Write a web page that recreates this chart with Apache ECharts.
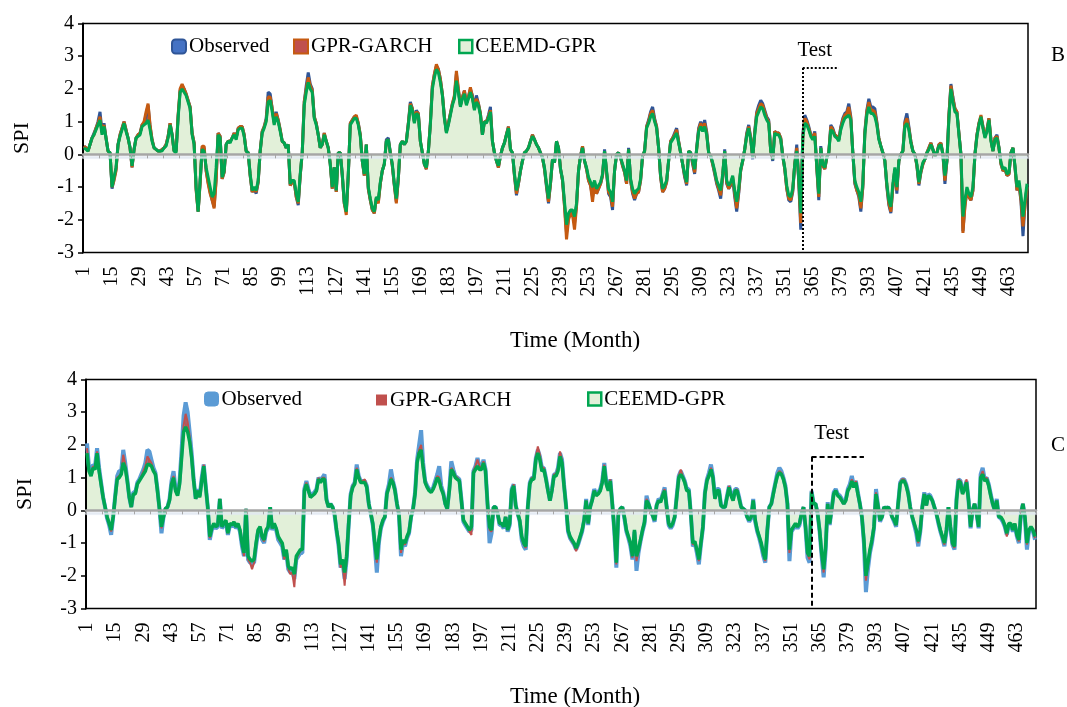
<!DOCTYPE html>
<html><head><meta charset="utf-8">
<script src="https://cdn.jsdelivr.net/npm/echarts@6/dist/echarts.min.js"></script>
<style>html,body{margin:0;padding:0;background:#fff}#c{width:1067px;height:707px}</style>
</head><body><div id="c"></div>
<script>
// ---------- Panel B ----------
const obsB = [
0.25,0.2,0.1,0.3,0.5,0.65,0.8,1.0,1.3,0.7,
0.95,0.5,0.1,0.05,-1.05,-0.75,-0.45,0.3,0.6,0.8,
1.0,0.75,0.5,0.2,-0.4,0.15,0.5,0.6,0.65,0.9,
0.95,1.2,1.5,0.85,0.45,0.2,0.15,0.1,0.1,0.15,
0.2,0.3,0.55,0.95,0.6,0.1,0.1,1.15,1.95,2.1,
2.0,1.85,1.65,1.45,0.65,0.35,-1.05,-1.75,-0.85,0.2,
0.2,-0.5,-0.85,-1.15,-1.4,-1.6,-0.75,0.65,0.55,-0.75,
-0.55,0.3,0.4,0.4,0.5,0.65,0.5,0.8,0.85,0.85,
0.6,0.1,0.05,-0.65,-1.15,-1.05,-1.2,-0.85,0.1,0.7,
0.85,1.1,1.9,1.85,1.4,1.0,1.3,1.05,0.75,0.4,
0.35,0.2,0.3,-0.95,-0.85,-0.85,-1.3,-1.55,-0.65,0.05,
1.6,2.1,2.5,2.15,2.0,1.15,0.95,0.6,0.2,0.3,
0.65,0.4,0.2,-0.3,-1.05,-0.4,-1.15,0.05,0.05,-0.65,
-1.5,-1.75,-0.65,0.95,1.05,1.15,1.15,0.95,0.6,-0.2,
-0.65,0.3,-1.05,-1.4,-1.7,-1.8,-1.35,-1.45,-0.9,-0.5,
-0.3,0.45,0.5,0.05,-0.35,-0.95,-1.45,-0.75,0.3,0.4,
0.3,0.4,0.95,1.6,1.4,1.0,1.35,1.25,0.4,0.05,
-0.3,-0.45,0.1,0.95,2.1,2.45,2.7,2.6,2.3,1.85,
1.15,0.7,0.95,1.25,1.55,1.75,2.45,1.95,1.5,1.75,
1.95,1.55,1.75,2.0,1.8,1.4,1.8,1.55,1.25,0.6,
1.0,1.0,1.2,1.45,0.4,0.05,-0.2,-0.4,-0.05,0.2,
0.35,0.6,0.85,0.15,0.05,-0.65,-1.25,-0.9,-0.5,-0.2,
0.05,0.1,0.2,0.4,0.6,0.45,0.3,0.2,0.05,-0.1,
-0.45,-1.0,-1.5,-0.9,-0.15,-0.25,0.4,0.2,-0.45,-0.8,
-1.55,-2.4,-1.95,-1.75,-1.8,-2.1,-1.55,-0.5,-0.05,0.25,
-0.2,-0.45,-0.8,-0.95,-1.3,-0.9,-1.2,-1.05,-0.9,-0.65,
0.15,-0.55,-1.2,-1.3,-1.7,-0.5,0.0,0.05,-0.1,-0.35,
-0.55,-0.9,0.2,-0.8,-1.2,-1.4,-1.2,-1.15,-0.8,-0.05,
0.1,0.85,1.05,1.3,1.45,1.1,0.85,0.2,-0.7,-1.15,
-1.05,-0.85,-0.2,0.4,0.5,0.65,0.8,0.4,0.05,-0.3,
-0.7,-0.95,0.1,0.05,-0.3,-0.6,0.2,0.8,1.0,0.8,
1.05,0.7,0.05,-0.05,-0.3,-0.6,-0.9,-1.1,-1.35,-0.7,
0.15,-0.9,-1.05,-0.95,-0.75,-1.3,-1.75,-1.2,-0.5,-0.2,
0.15,0.65,0.9,0.5,-0.15,0.7,1.3,1.5,1.65,1.55,
1.35,1.15,1.05,0.1,-0.2,0.7,0.65,0.65,0.5,-0.05,
-0.45,-1.05,-1.4,-1.45,-1.15,-0.3,0.3,-0.85,-2.3,0.6,
1.2,1.05,0.85,0.6,0.5,0.7,-0.4,-1.4,0.25,-0.35,
-0.45,-0.1,0.05,0.9,0.8,0.6,0.55,0.45,0.85,1.1,
1.25,1.3,1.55,1.15,0.05,-0.9,-1.1,-1.3,-1.75,-1.0,
0.7,1.35,1.7,1.45,1.45,1.4,1.0,0.5,0.25,0.05,
-0.2,-1.0,-1.55,-1.8,-1.0,-0.45,-1.2,-0.2,0.0,0.1,
1.0,1.25,0.85,0.4,0.1,0.0,-0.35,-0.95,-0.55,-0.3,
-0.15,0.05,0.2,0.35,0.15,-0.05,0.05,0.3,0.35,0.0,
-0.9,-0.2,1.2,2.15,1.75,1.4,1.3,0.65,0.0,-2.35,
-1.55,-1.1,-1.3,-1.4,-1.1,0.0,0.6,0.95,1.15,0.85,
0.55,0.75,1.1,0.45,0.1,0.5,0.6,0.2,-0.3,-0.5,
-0.45,-0.65,-0.6,0.05,0.2,-0.4,-1.1,-0.9,-1.45,-2.5,
-1.5,-1.0];
const garchB = [
0.25,0.2,0.1,0.3,0.5,0.6,0.8,0.95,1.15,0.65,
0.9,0.5,0.1,0.05,-1.0,-0.8,-0.5,0.3,0.6,0.8,
1.0,0.75,0.5,0.2,-0.4,0.15,0.5,0.6,0.65,0.9,
1.0,1.3,1.55,0.9,0.45,0.2,0.15,0.1,0.1,0.15,
0.2,0.3,0.55,0.95,0.6,0.1,0.1,1.2,2.0,2.15,
2.0,1.85,1.65,1.45,0.65,0.35,-1.1,-1.75,-0.9,0.25,
0.25,-0.5,-0.9,-1.2,-1.4,-1.65,-0.8,0.65,0.55,-0.75,
-0.55,0.3,0.4,0.4,0.5,0.65,0.5,0.8,0.85,0.85,
0.6,0.1,0.05,-0.65,-1.15,-1.05,-1.15,-0.85,0.1,0.7,
0.85,1.05,1.75,1.75,1.4,0.95,1.25,1.05,0.75,0.4,
0.35,0.2,0.3,-0.95,-0.85,-0.85,-1.3,-1.5,-0.65,0.05,
1.6,2.0,2.35,2.1,1.95,1.15,0.95,0.6,0.2,0.3,
0.65,0.4,0.2,-0.3,-1.05,-0.4,-1.15,0.05,0.05,-0.65,
-1.5,-1.85,-0.65,0.95,1.05,1.15,1.2,0.95,0.6,-0.2,
-0.65,0.3,-1.05,-1.4,-1.7,-1.8,-1.35,-1.5,-0.9,-0.5,
-0.3,0.4,0.45,0.05,-0.35,-0.95,-1.5,-0.75,0.3,0.4,
0.3,0.4,0.95,1.55,1.4,1.0,1.3,1.25,0.4,0.05,
-0.3,-0.45,0.1,0.95,2.1,2.45,2.75,2.6,2.3,1.85,
1.15,0.7,0.95,1.25,1.55,1.8,2.55,2.0,1.5,1.75,
1.95,1.55,1.75,2.05,1.75,1.4,1.7,1.55,1.25,0.6,
1.0,1.0,1.15,1.35,0.4,0.05,-0.2,-0.4,-0.05,0.2,
0.35,0.6,0.85,0.15,0.05,-0.65,-1.2,-0.9,-0.5,-0.2,
0.05,0.1,0.2,0.4,0.6,0.45,0.3,0.2,0.05,-0.1,
-0.45,-0.95,-1.45,-0.9,-0.15,-0.25,0.4,0.2,-0.45,-0.8,
-1.6,-2.6,-2.0,-1.8,-1.85,-2.3,-1.6,-0.5,-0.05,0.25,
-0.2,-0.45,-0.8,-0.95,-1.45,-0.9,-1.2,-1.05,-0.9,-0.65,
0.1,-0.55,-1.15,-1.25,-1.6,-0.5,0.0,0.05,-0.1,-0.35,
-0.55,-0.9,0.15,-0.8,-1.15,-1.35,-1.2,-1.15,-0.8,-0.05,
0.1,0.85,1.0,1.25,1.35,1.05,0.85,0.2,-0.7,-1.15,
-1.05,-0.85,-0.2,0.4,0.5,0.6,0.75,0.4,0.05,-0.3,
-0.65,-0.9,0.1,0.05,-0.25,-0.55,0.15,0.75,0.95,0.75,
0.95,0.65,0.05,-0.05,-0.3,-0.55,-0.85,-1.05,-1.25,-0.65,
0.1,-0.85,-1.05,-0.9,-0.7,-1.2,-1.65,-1.15,-0.5,-0.2,
0.15,0.6,0.85,0.5,-0.1,0.65,1.25,1.4,1.55,1.5,
1.3,1.1,1.0,0.1,-0.15,0.7,0.65,0.65,0.5,-0.05,
-0.45,-1.05,-1.35,-1.4,-1.1,-0.3,0.2,-0.8,-2.1,0.5,
1.1,1.0,0.8,0.6,0.5,0.65,-0.4,-1.3,0.2,-0.35,
-0.45,-0.1,0.05,0.85,0.75,0.6,0.55,0.45,0.8,1.05,
1.2,1.25,1.45,1.1,0.05,-0.85,-1.1,-1.25,-1.65,-1.0,
0.65,1.3,1.6,1.35,1.35,1.3,0.95,0.5,0.25,0.05,
-0.2,-0.95,-1.5,-1.75,-1.0,-0.45,-1.1,-0.2,0.0,0.1,
0.95,1.1,0.8,0.4,0.1,0.0,-0.35,-0.9,-0.55,-0.3,
-0.15,0.05,0.2,0.35,0.15,-0.05,0.05,0.3,0.35,0.0,
-0.8,-0.2,1.2,2.1,1.7,1.4,1.3,0.65,0.0,-2.4,
-1.6,-1.1,-1.3,-1.4,-1.1,0.0,0.6,0.95,1.2,0.85,
0.55,0.75,1.1,0.45,0.1,0.5,0.55,0.2,-0.3,-0.5,
-0.45,-0.65,-0.6,0.05,0.2,-0.4,-1.1,-0.9,-1.4,-2.2,
-1.6,-1.0];
const ceemdB = [
0.2,0.15,0.1,0.3,0.5,0.6,0.75,0.9,1.05,0.6,
0.85,0.5,0.1,0.05,-1.0,-0.7,-0.4,0.3,0.55,0.75,
0.95,0.7,0.5,0.2,-0.35,0.15,0.5,0.55,0.6,0.85,
0.9,0.95,1.05,0.75,0.4,0.2,0.15,0.1,0.1,0.1,
0.2,0.25,0.5,0.9,0.6,0.1,0.05,1.1,1.9,2.0,
1.9,1.8,1.6,1.4,0.6,0.3,-1.0,-1.75,-0.8,0.15,
0.1,-0.4,-0.7,-1.0,-1.3,-1.2,-0.4,0.6,0.5,-0.7,
-0.5,0.3,0.4,0.35,0.5,0.6,0.45,0.75,0.8,0.8,
0.55,0.1,0.05,-0.6,-1.1,-1.0,-1.1,-0.8,0.1,0.65,
0.8,1.0,1.6,1.65,1.3,0.9,1.15,1.0,0.7,0.4,
0.35,0.2,0.3,-0.9,-0.8,-0.8,-1.2,-1.45,-0.6,0.05,
1.5,1.9,2.2,2.0,1.9,1.1,0.9,0.6,0.2,0.3,
0.6,0.4,0.2,-0.3,-1.0,-0.4,-1.1,0.05,0.05,-0.6,
-1.45,-1.75,-0.6,0.9,1.0,1.1,1.1,0.9,0.55,-0.2,
-0.6,0.3,-1.0,-1.35,-1.65,-1.75,-1.3,-1.4,-0.85,-0.5,
-0.3,0.4,0.45,0.05,-0.3,-0.9,-1.35,-0.7,0.3,0.4,
0.3,0.4,0.9,1.5,1.35,0.95,1.25,1.2,0.4,0.05,
-0.3,-0.4,0.1,0.9,2.0,2.35,2.6,2.5,2.2,1.8,
1.1,0.65,0.9,1.2,1.5,1.7,2.25,1.9,1.45,1.7,
1.85,1.5,1.7,1.9,1.7,1.35,1.6,1.5,1.2,0.6,
1.0,0.95,1.1,1.3,0.4,0.05,-0.2,-0.35,-0.05,0.2,
0.35,0.6,0.8,0.15,0.05,-0.6,-1.1,-0.85,-0.5,-0.2,
0.05,0.1,0.2,0.4,0.55,0.45,0.3,0.2,0.05,-0.1,
-0.4,-0.9,-1.35,-0.85,-0.15,-0.25,0.4,0.2,-0.45,-0.75,
-1.45,-2.15,-1.8,-1.7,-1.7,-1.9,-1.5,-0.5,-0.05,0.2,
-0.2,-0.4,-0.7,-0.85,-1.0,-0.8,-1.05,-0.95,-0.85,-0.6,
0.1,-0.5,-1.05,-1.15,-1.45,-0.5,0.0,0.05,-0.1,-0.3,
-0.5,-0.8,0.15,-0.75,-1.05,-1.2,-1.1,-1.05,-0.75,-0.05,
0.1,0.8,0.95,1.15,1.25,1.0,0.8,0.2,-0.65,-1.05,
-0.95,-0.8,-0.2,0.35,0.45,0.55,0.65,0.35,0.05,-0.3,
-0.6,-0.85,0.1,0.05,-0.2,-0.45,0.15,0.7,0.85,0.7,
0.85,0.6,0.05,-0.05,-0.25,-0.5,-0.8,-0.95,-1.1,-0.6,
0.1,-0.8,-0.95,-0.85,-0.65,-1.1,-1.45,-1.05,-0.45,-0.2,
0.15,0.55,0.8,0.45,-0.1,0.6,1.15,1.3,1.45,1.4,
1.2,1.05,0.95,0.1,-0.15,0.65,0.6,0.6,0.45,-0.05,
-0.4,-0.95,-1.25,-1.3,-1.05,-0.3,0.1,-0.75,-1.8,0.5,
0.95,0.9,0.75,0.55,0.45,0.55,-0.35,-1.2,0.2,-0.3,
-0.4,-0.1,0.05,0.75,0.7,0.55,0.5,0.4,0.75,0.95,
1.1,1.15,1.2,1.05,0.05,-0.8,-1.0,-1.15,-1.45,-0.9,
0.6,1.2,1.45,1.25,1.25,1.15,0.9,0.45,0.25,0.05,
-0.2,-0.9,-1.4,-1.6,-0.9,-0.4,-1.0,-0.2,0.0,0.1,
0.85,0.95,0.75,0.35,0.1,0.0,-0.3,-0.85,-0.5,-0.25,
-0.15,0.05,0.15,0.3,0.15,-0.05,0.05,0.25,0.3,0.0,
-0.65,-0.2,1.1,2.0,1.6,1.3,1.25,0.6,0.0,-1.9,
-1.4,-1.0,-1.2,-1.3,-1.0,0.0,0.55,0.9,1.15,0.8,
0.5,0.7,1.05,0.4,0.1,0.45,0.5,0.2,-0.25,-0.45,
-0.4,-0.6,-0.55,0.05,0.2,-0.35,-1.0,-0.8,-1.25,-1.9,
-1.4,-0.9];
// ---------- Panel C ----------
const obsC = [
2.05,1.3,1.1,1.4,1.35,1.9,1.3,0.85,0.4,0.1,
-0.25,-0.45,-0.75,-0.2,0.45,1.05,1.2,1.2,1.85,1.45,
0.95,0.4,0.1,0.55,0.55,0.85,0.95,1.1,1.25,1.45,
1.85,1.8,1.55,1.3,1.15,0.65,0.05,-0.7,-0.2,0.05,
0.1,0.35,0.9,1.2,0.65,0.5,0.9,1.85,2.9,3.3,
3.0,2.4,1.75,0.95,0.35,0.65,0.45,1.0,1.4,0.75,
0.1,-0.9,-0.6,-0.45,-0.55,-0.5,0.35,-0.55,-0.45,-0.35,
-0.75,-0.45,-0.5,-0.4,-0.55,-0.45,-0.65,-1.1,-1.4,0.05,
-1.5,-1.6,-1.6,-1.6,-1.1,-0.65,-0.55,-0.9,-1.0,-0.65,
-0.55,0.1,-0.6,-0.45,-0.6,-0.9,-1.0,-1.1,-1.5,-1.3,
-1.8,-1.9,-1.85,-2.1,-1.5,-1.4,-1.3,-1.3,0.65,0.9,
0.65,0.45,0.5,0.55,0.65,1.0,0.9,1.0,1.1,0.35,
0.1,0.2,0.1,-0.15,-0.65,-1.1,-1.75,-1.6,-2.1,-1.5,
-0.45,0.5,0.75,0.85,1.4,1.05,0.9,0.9,0.9,0.75,
0.2,-0.1,-0.45,-1.1,-1.9,-1.0,-0.55,-0.35,-0.2,0.55,
0.8,1.25,0.9,0.65,0.2,-0.15,-1.4,-1.0,-1.1,-0.85,
-0.7,-0.2,0.05,0.55,1.55,2.0,2.45,1.45,0.9,0.75,
0.65,0.6,0.7,0.9,1.1,1.35,0.75,0.55,0.2,0.05,
0.65,1.5,1.25,1.05,1.0,0.95,0.35,-0.35,-0.45,-0.55,
-0.65,-0.6,1.2,1.35,1.6,1.35,1.3,1.55,1.25,0.2,
-1.0,-0.7,0.1,0.1,-0.1,-0.45,-0.45,-0.55,-0.2,-0.65,
-0.45,0.65,0.8,0.15,-0.1,-0.35,-0.9,-1.1,-1.2,0.1,
0.85,1.0,1.0,1.6,1.85,1.65,1.3,1.3,1.0,0.65,
0.3,0.65,1.1,1.1,1.3,1.75,1.55,0.8,0.15,-0.65,
-0.85,-0.95,-1.05,-1.2,-1.05,-0.85,-0.65,-0.3,0.35,-0.45,
0.1,0.35,0.65,0.5,0.55,0.65,0.9,1.45,0.85,0.65,
0.95,0.2,-0.65,-1.75,-0.1,0.05,0.1,-0.25,-0.65,-0.85,
-1.1,-1.5,-0.65,-1.85,-1.3,-0.95,-0.65,-0.4,0.45,0.2,
0.0,-0.15,-0.35,0.15,0.35,0.3,0.5,0.7,0.1,-0.45,
-0.55,-0.45,-0.2,0.45,1.05,1.2,1.05,0.9,0.65,0.65,
-0.1,-1.1,-1.0,-1.3,-1.65,-1.05,-0.55,0.55,0.95,1.15,
1.4,1.05,0.4,0.65,0.65,0.15,0.1,0.1,0.45,0.75,
0.5,0.35,0.65,0.65,0.4,0.1,0.05,0.0,-0.2,-0.35,
-0.25,0.35,-0.35,-0.65,-0.85,-1.1,-1.4,-1.6,-0.65,0.1,
0.2,0.55,0.85,1.15,1.3,1.2,1.0,0.75,0.2,-1.55,
-0.65,-0.55,-0.45,-0.55,-0.45,-0.1,0.1,-0.55,-1.45,-1.6,
0.6,0.2,0.2,-0.1,-0.65,-1.4,-2.05,-1.2,0.25,-0.45,
0.05,0.55,0.65,0.5,0.45,0.35,0.2,0.35,0.65,0.8,
1.05,0.75,0.9,0.55,0.2,-0.2,-1.0,-2.5,-1.8,-1.3,
-1.0,-0.55,0.65,0.15,-0.35,-0.2,0.1,0.05,0.1,0.0,
-0.2,-0.35,-0.5,0.2,0.85,0.95,0.95,0.8,0.55,0.1,
-0.2,-0.45,-0.7,-1.1,-0.65,0.1,0.55,0.15,0.5,0.45,
0.3,0.1,-0.1,-0.4,-0.65,-0.85,-1.1,-0.65,0.1,-0.55,
-1.05,-1.2,0.35,0.95,0.9,0.55,0.7,0.9,0.3,-0.55,
0.0,0.2,-0.1,-0.55,1.1,1.3,0.95,1.0,0.8,0.5,
0.2,0.0,0.35,-0.2,-0.25,-0.35,-0.5,-0.75,-0.45,-0.45,
-0.65,-0.45,-0.8,-1.0,-0.1,0.2,-0.25,-1.2,-0.65,-0.55,
-0.65,-0.9];
const garchC = [
1.9,1.25,1.1,1.35,1.3,1.8,1.25,0.8,0.4,0.1,
-0.2,-0.4,-0.65,-0.2,0.4,1.0,1.05,1.15,1.7,1.4,
0.9,0.4,0.1,0.5,0.5,0.8,0.9,1.05,1.2,1.35,
1.65,1.55,1.45,1.25,1.1,0.6,0.05,-0.55,-0.2,0.05,
0.1,0.3,0.85,1.05,0.6,0.45,0.85,1.75,2.6,2.95,
2.7,2.25,1.7,0.9,0.35,0.6,0.4,0.95,1.4,0.7,
0.1,-0.85,-0.55,-0.4,-0.5,-0.45,0.35,-0.5,-0.4,-0.3,
-0.7,-0.4,-0.45,-0.35,-0.5,-0.4,-0.6,-1.05,-1.4,0.05,
-1.5,-1.6,-1.8,-1.6,-1.05,-0.6,-0.5,-0.85,-0.95,-0.6,
-0.5,0.1,-0.55,-0.4,-0.55,-0.85,-0.95,-1.05,-1.5,-1.3,
-1.8,-1.95,-1.9,-2.35,-1.5,-1.35,-1.25,-1.2,0.6,0.85,
0.6,0.4,0.45,0.5,0.6,1.0,0.85,1.0,1.0,0.3,
0.1,0.2,0.1,-0.1,-0.6,-1.05,-1.75,-1.6,-2.3,-1.5,
-0.4,0.45,0.75,0.85,1.3,1.05,0.9,0.9,0.95,0.75,
0.2,-0.1,-0.4,-1.05,-1.6,-0.95,-0.5,-0.3,-0.2,0.5,
0.75,1.0,0.9,0.6,0.2,-0.1,-1.3,-0.95,-1.05,-0.85,
-0.65,-0.2,0.05,0.5,1.5,1.85,2.0,1.4,0.9,0.7,
0.6,0.55,0.65,0.85,1.05,1.0,0.7,0.5,0.2,0.05,
0.6,1.3,1.2,1.05,1.0,0.9,0.3,-0.3,-0.4,-0.5,
-0.65,-0.75,1.2,1.35,1.55,1.35,1.3,1.5,1.25,0.2,
-0.6,-0.65,0.1,0.1,-0.1,-0.4,-0.4,-0.5,-0.2,-0.6,
-0.4,0.6,0.8,0.15,-0.1,-0.3,-0.85,-1.05,-1.15,0.1,
0.85,1.0,1.0,1.65,1.95,1.7,1.3,1.3,1.0,0.6,
0.3,0.6,1.1,1.1,1.3,1.8,1.55,0.8,0.15,-0.6,
-0.85,-0.95,-1.05,-1.25,-1.05,-0.85,-0.6,-0.3,0.3,-0.4,
0.1,0.3,0.6,0.45,0.5,0.6,0.9,1.4,0.85,0.6,
0.95,0.2,-0.6,-1.65,-0.1,0.05,0.1,-0.2,-0.6,-0.85,
-1.05,-1.45,-0.6,-1.55,-1.25,-0.95,-0.6,-0.35,0.35,0.2,
0.0,-0.15,-0.3,0.15,0.3,0.25,0.5,0.65,0.1,-0.4,
-0.5,-0.4,-0.2,0.4,1.05,1.25,1.05,0.9,0.6,0.6,
-0.1,-1.05,-1.0,-1.25,-1.55,-1.05,-0.5,0.5,0.95,1.1,
1.3,1.05,0.35,0.6,0.6,0.15,0.1,0.1,0.4,0.75,
0.45,0.3,0.6,0.65,0.35,0.1,0.05,0.0,-0.2,-0.3,
-0.2,0.3,-0.3,-0.6,-0.85,-1.05,-1.35,-1.55,-0.6,0.1,
0.2,0.5,0.85,1.1,1.2,1.15,1.0,0.7,0.2,-1.3,
-0.6,-0.5,-0.4,-0.5,-0.4,-0.1,0.1,-0.5,-1.35,-1.5,
0.6,0.2,0.2,-0.1,-0.6,-1.35,-1.9,-1.15,0.2,-0.4,
0.05,0.5,0.6,0.45,0.4,0.3,0.2,0.3,0.6,0.75,
0.95,0.75,0.9,0.5,0.2,-0.2,-0.95,-2.15,-1.7,-1.25,
-0.95,-0.5,0.55,0.15,-0.3,-0.2,0.1,0.05,0.1,0.0,
-0.2,-0.3,-0.45,0.2,0.85,0.95,0.95,0.8,0.5,0.1,
-0.2,-0.4,-0.65,-1.0,-0.6,0.1,0.5,0.15,0.45,0.4,
0.3,0.1,-0.1,-0.35,-0.6,-0.85,-1.05,-0.6,0.1,-0.5,
-1.05,-1.15,0.3,0.95,0.9,0.5,0.7,0.95,0.3,-0.5,
0.0,0.2,-0.1,-0.5,1.05,1.2,0.95,1.0,0.8,0.45,
0.2,0.0,0.3,-0.2,-0.2,-0.3,-0.5,-0.8,-0.4,-0.4,
-0.6,-0.4,-0.8,-0.95,-0.1,0.2,-0.2,-1.05,-0.6,-0.5,
-0.6,-0.85];
const ceemdC = [
1.75,1.2,1.05,1.3,1.25,1.75,1.2,0.8,0.4,0.1,
-0.2,-0.4,-0.6,-0.2,0.4,0.95,1.0,1.1,1.45,1.3,
0.9,0.4,0.1,0.5,0.5,0.8,0.9,1.0,1.1,1.2,
1.4,1.4,1.35,1.2,1.1,0.6,0.05,-0.5,-0.2,0.05,
0.1,0.3,0.8,1.0,0.6,0.45,0.8,1.6,2.4,2.55,
2.4,2.1,1.6,0.9,0.35,0.6,0.4,0.9,1.35,0.7,
0.1,-0.8,-0.55,-0.4,-0.5,-0.45,0.35,-0.5,-0.4,-0.3,
-0.7,-0.4,-0.45,-0.35,-0.5,-0.4,-0.6,-1.0,-1.3,0.05,
-1.4,-1.5,-1.55,-1.5,-1.0,-0.6,-0.5,-0.8,-0.9,-0.6,
-0.5,0.1,-0.55,-0.4,-0.55,-0.8,-0.9,-1.0,-1.4,-1.2,
-1.7,-1.8,-1.75,-1.95,-1.4,-1.3,-1.2,-1.2,0.6,0.8,
0.6,0.4,0.45,0.5,0.6,0.95,0.85,0.95,0.95,0.3,
0.1,0.2,0.1,-0.1,-0.6,-1.0,-1.65,-1.5,-1.9,-1.4,
-0.4,0.45,0.7,0.8,1.25,1.0,0.85,0.85,0.85,0.7,
0.2,-0.1,-0.4,-1.0,-1.5,-0.9,-0.5,-0.3,-0.2,0.5,
0.7,0.95,0.85,0.6,0.2,-0.1,-1.2,-0.9,-1.0,-0.8,
-0.65,-0.2,0.05,0.5,1.45,1.75,1.85,1.3,0.85,0.7,
0.6,0.55,0.65,0.8,1.0,0.9,0.65,0.5,0.2,0.05,
0.6,1.25,1.15,1.0,0.95,0.9,0.3,-0.3,-0.4,-0.5,
-0.6,-0.5,1.15,1.25,1.35,1.25,1.25,1.45,1.2,0.2,
-0.5,-0.6,0.1,0.1,-0.1,-0.4,-0.4,-0.5,-0.2,-0.6,
-0.4,0.6,0.75,0.15,-0.1,-0.3,-0.8,-1.0,-1.1,0.1,
0.8,0.95,0.95,1.55,1.75,1.55,1.2,1.25,0.95,0.6,
0.3,0.6,1.05,1.05,1.2,1.65,1.45,0.75,0.15,-0.6,
-0.8,-0.9,-1.0,-1.15,-1.0,-0.8,-0.6,-0.3,0.3,-0.4,
0.1,0.3,0.6,0.45,0.5,0.6,0.85,1.35,0.8,0.6,
0.9,0.2,-0.6,-1.6,-0.1,0.05,0.1,-0.2,-0.6,-0.8,
-1.0,-1.4,-0.6,-1.4,-1.2,-0.9,-0.6,-0.35,0.3,0.2,
0.0,-0.15,-0.3,0.15,0.3,0.25,0.45,0.6,0.1,-0.4,
-0.5,-0.4,-0.2,0.4,1.0,1.1,1.0,0.85,0.6,0.6,
-0.1,-1.0,-0.95,-1.2,-1.5,-1.0,-0.5,0.5,0.9,1.05,
1.25,1.0,0.35,0.6,0.6,0.15,0.1,0.1,0.4,0.7,
0.45,0.3,0.6,0.6,0.35,0.1,0.05,0.0,-0.2,-0.3,
-0.2,0.3,-0.3,-0.6,-0.8,-1.0,-1.3,-1.5,-0.6,0.1,
0.2,0.5,0.8,1.05,1.15,1.1,0.95,0.7,0.2,-1.2,
-0.6,-0.5,-0.4,-0.5,-0.4,-0.1,0.1,-0.5,-1.3,-1.4,
0.55,0.2,0.2,-0.1,-0.6,-1.3,-1.8,-1.1,0.2,-0.4,
0.05,0.5,0.6,0.45,0.4,0.3,0.2,0.3,0.6,0.7,
0.9,0.7,0.85,0.5,0.2,-0.2,-0.9,-2.0,-1.6,-1.2,
-0.9,-0.5,0.5,0.15,-0.3,-0.2,0.1,0.05,0.1,0.0,
-0.2,-0.3,-0.45,0.2,0.8,0.9,0.9,0.75,0.5,0.1,
-0.2,-0.4,-0.6,-0.95,-0.6,0.1,0.5,0.15,0.45,0.4,
0.3,0.1,-0.1,-0.35,-0.6,-0.8,-1.0,-0.6,0.1,-0.5,
-1.0,-1.1,0.3,0.9,0.85,0.5,0.65,0.85,0.3,-0.5,
0.0,0.2,-0.1,-0.5,1.0,1.1,0.9,0.95,0.75,0.45,
0.2,0.0,0.3,-0.2,-0.2,-0.3,-0.45,-0.7,-0.4,-0.4,
-0.6,-0.4,-0.75,-0.9,-0.1,0.2,-0.2,-1.0,-0.6,-0.5,
-0.6,-0.8];
// categories: month index 1..N
const months = obsB.map((_, i) => String(i + 1));
const seriesNames = ['Observed', 'GPR-GARCH', 'CEEMD-GPR'];
const yMin = -3, yMax = 4, yStep = 1;
const testStart = '360';   // first test month (panel B marker)
const testStartC = '361';

const FF = "'Liberation Serif','Times New Roman',serif";
const chart = echarts.init(document.getElementById('c'), null, {renderer: 'canvas'});

function area(name, data, xi, yi, fill, border, width, extra) {
  return Object.assign({
    name, type: 'line', xAxisIndex: xi, yAxisIndex: yi, data,
    symbol: 'none', showSymbol: false, silent: true, animation: false,
    lineStyle: {color: border, width: width},
    itemStyle: {color: fill, borderColor: border},
    areaStyle: {color: fill, opacity: 1, origin: 'auto'}
  }, extra || {});
}
function labelAxis(gi) {
  return {type: 'category', gridIndex: gi, data: months, position: 'bottom', boundaryGap: true,
    axisLine: {show: false, onZero: false}, axisTick: {show: false},
    axisLabel: {interval: 13, rotate: 90, margin: 14, fontSize: 20, fontFamily: FF, color: '#000'},
    splitLine: {show: false}};
}
function zeroAxis(gi) {
  return {type: 'category', gridIndex: gi, data: months, position: 'bottom', boundaryGap: true, z: 10,
    axisLine: {show: true, onZero: true, lineStyle: {color: '#A6A6A6', width: 2.5, shadowColor: 'rgba(225,232,242,0.9)', shadowOffsetY: 3, shadowBlur: 1}},
    axisTick: {show: true, interval: 7, length: 4, lineStyle: {color: '#A6A6A6', width: 1}},
    axisLabel: {show: false}, splitLine: {show: false}};
}
function yAx(gi) {
  return {type: 'value', gridIndex: gi, min: yMin, max: yMax, interval: yStep,
    axisLine: {show: true, onZero: false, lineStyle: {color: '#000', width: 2}},
    axisTick: {show: true, inside: false, length: 5, lineStyle: {color: '#000', width: 1.5}},
    axisLabel: {fontSize: 20, fontFamily: FF, color: '#000', margin: 9},
    splitLine: {show: false},
    name: 'SPI', nameLocation: 'middle', nameGap: 50, nameRotate: 90,
    nameTextStyle: {fontSize: 22, fontFamily: FF, color: '#000'}};
}
function leg(name, left, top, icon, size, style) {
  return {show: true, data: [name], left: left, top: top, icon: icon, itemWidth: size, itemHeight: size,
    padding: 0, itemGap: 0, selectedMode: false,
    itemStyle: style,
    textStyle: {fontSize: 21, fontFamily: FF, color: '#000', padding: [0, 0, 0, -2]}};
}
function testMarks(xStart, yTop, xEnd, type, tx, ty) {
  return {
    markLine: {silent: true, animation: false, symbol: ['none', 'none'], label: {show: false},
      lineStyle: {color: '#000', width: 2, type: type},
      data: [[{coord: [xStart, yTop]}, {coord: [xStart, yMin]}], [{coord: [xStart, yTop]}, {coord: [xEnd, yTop]}]]},
    markPoint: {silent: true, animation: false, symbol: 'rect', symbolSize: 1, itemStyle: {color: 'rgba(0,0,0,0)'},
      label: {show: true, position: 'inside', formatter: 'Test', fontSize: 21, fontFamily: FF, color: '#000'},
      data: [{coord: [tx, ty]}]}
  };
}

const option = {
  backgroundColor: '#fff',
  animation: false,
  grid: [
    {left: 83, top: 23.5, width: 945, height: 229, show: true, borderColor: '#000', borderWidth: 1.5, backgroundColor: 'transparent'},
    {left: 86, top: 379.5, width: 950, height: 229, show: true, borderColor: '#000', borderWidth: 1.5, backgroundColor: 'transparent'}
  ],
  xAxis: [labelAxis(0), zeroAxis(0), labelAxis(1), zeroAxis(1)],
  yAxis: [yAx(0), yAx(1)],
  legend: [
    leg(seriesNames[0], 171, 36, 'roundRect', 14, {color: '#4472C4', borderColor: '#2F5597', borderWidth: 2}),
    leg(seriesNames[1], 293, 36, 'rect', 14, {color: '#C0504D', borderColor: '#C55A11', borderWidth: 2}),
    leg(seriesNames[2], 458, 36, 'rect', 13, {color: '#E2F0D9', borderColor: '#00A651', borderWidth: 2.5}),
    leg(seriesNames[0], 204, 388.5, 'roundRect', 14, {color: '#5B9BD5', borderColor: '#5B9BD5', borderWidth: 1}),
    leg(seriesNames[1], 376, 389.5, 'rect', 11, {color: '#C0504D', borderColor: '#C0504D', borderWidth: 0}),
    leg(seriesNames[2], 587, 388.5, 'rect', 13, {color: '#E2F0D9', borderColor: '#00A651', borderWidth: 2.5})
  ],
  graphic: [
    {type: 'text', x: 575, y: 341, style: {text: 'Time (Month)', fontSize: 23, fontFamily: FF, fill: '#000', align: 'center', verticalAlign: 'middle'}},
    {type: 'text', x: 575, y: 697, style: {text: 'Time (Month)', fontSize: 23, fontFamily: FF, fill: '#000', align: 'center', verticalAlign: 'middle'}},
    {type: 'text', x: 1058, y: 55, style: {text: 'B', fontSize: 21, fontFamily: FF, fill: '#000', align: 'center', verticalAlign: 'middle'}},
    {type: 'text', x: 1058, y: 445, style: {text: 'C', fontSize: 21, fontFamily: FF, fill: '#000', align: 'center', verticalAlign: 'middle'}}
  ],
  series: [
    area(seriesNames[0], obsB, 0, 0, '#4472C4', '#2F5597', 3),
    area(seriesNames[1], garchB, 0, 0, '#C0504D', '#C55A11', 3),
    area(seriesNames[2], ceemdB, 0, 0, '#E2F0D9', '#00A651', 3,
      testMarks(testStart, 2.64, '378', 'dotted', '366', 3.18)),
    area(seriesNames[0], obsC, 2, 1, '#5B9BD5', '#5B9BD5', 4),
    area(seriesNames[1], garchC, 2, 1, '#C0504D', '#C0504D', 2),
    area(seriesNames[2], ceemdC, 2, 1, '#E2F0D9', '#00A651', 3.5,
      testMarks(testStartC, 1.64, '387', [5, 3], '371', 2.35))
  ]
};
chart.setOption(option);
</script>
</body></html>
